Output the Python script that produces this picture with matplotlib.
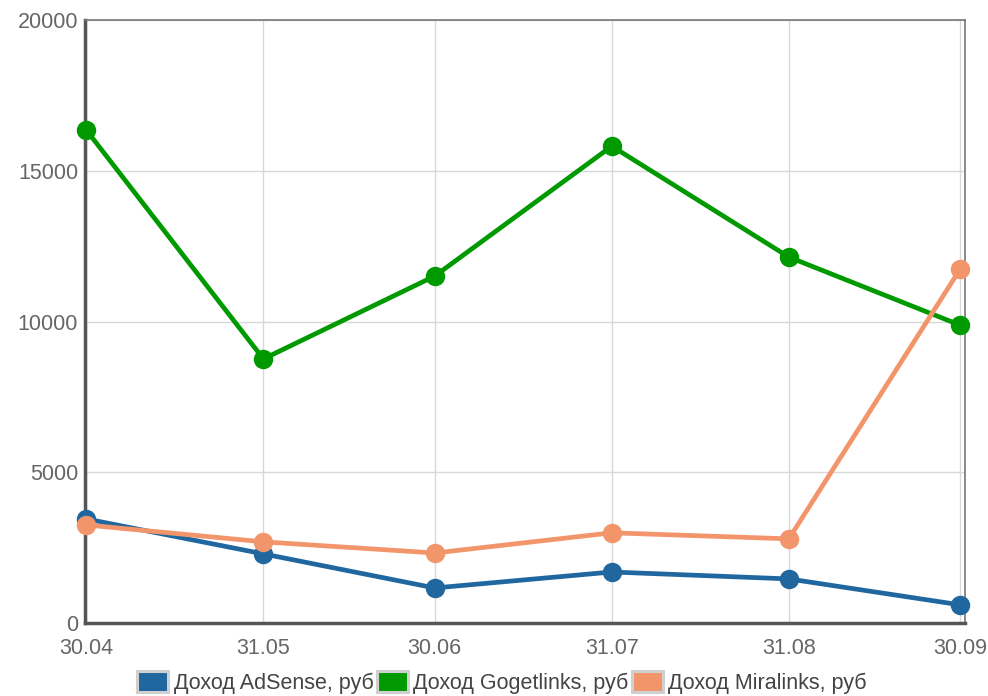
import pandas as pd
import matplotlib.pyplot as plt
from matplotlib.patches import Patch

plt.rcParams['font.family'] = ['Liberation Sans', 'DejaVu Sans']

dates = ["2013-04-30", "2013-05-31", "2013-06-30", "2013-07-31", "2013-08-31", "2013-09-30"]
date_labels = ["30.04", "31.05", "30.06", "31.07", "31.08", "30.09"]
adsense = [3450, 2290, 1160, 1690, 1460, 600]
gogetlinks = [16350, 8760, 11510, 15820, 12140, 9880]
miralinks = [3250, 2690, 2320, 2990, 2790, 11740]

names = ["Доход AdSense, руб", "Доход Gogetlinks, руб", "Доход Miralinks, руб"]
colors = ["#21679f", "#009a00", "#f3956b"]

d = pd.to_datetime(dates)
x = (d - d[0]).days.values

fig = plt.figure(figsize=(9.88, 6.96), dpi=100)
ax = fig.add_axes([0.086, 0.105, 0.891, 0.866])

for ys, c in zip([adsense, gogetlinks, miralinks], colors):
    ax.plot(x, ys, color=c, lw=3.4, marker='o', ms=13, solid_capstyle='round',
            clip_on=False, zorder=3)

ax.set_xlim(-0.25, x[-1] + 0.9)
ax.set_ylim(0, 20000)
ax.set_xticks(x)
ax.set_xticklabels(date_labels)
ax.set_yticks([0, 5000, 10000, 15000, 20000])
ax.tick_params(length=0, labelsize=15.5, colors='#666666')
ax.tick_params(axis='x', pad=10.5)
ax.tick_params(axis='y', pad=5)
ax.grid(True, color='#d8d8d8', lw=1)
ax.set_axisbelow(True)

for side in ['left', 'bottom']:
    ax.spines[side].set_color('#555555')
    ax.spines[side].set_linewidth(2.5)
for side in ['top', 'right']:
    ax.spines[side].set_color('#777777')
    ax.spines[side].set_linewidth(1.2)

handles = [Patch(facecolor=c, edgecolor='#d0d0d0', lw=2.2) for c in colors]
fig.legend(handles, names, loc='center', bbox_to_anchor=(0.508, 0.02), ncol=3,
           frameon=False, fontsize=15.5, handlelength=1.45, handleheight=1.15,
           handletextpad=0.25, columnspacing=0.15, labelcolor='#444444')

fig.savefig("out.png", dpi=100)
